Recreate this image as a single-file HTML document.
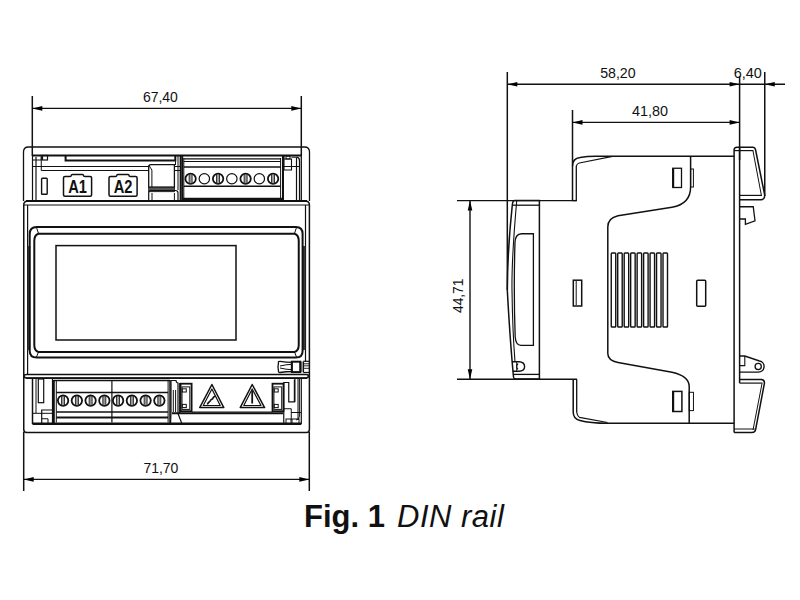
<!DOCTYPE html>
<html><head><meta charset="utf-8"><style>
html,body{margin:0;padding:0;background:#fff;width:800px;height:600px;overflow:hidden}
svg{position:absolute;left:0;top:0}
text{font-family:"Liberation Sans",sans-serif;fill:#111;stroke:none}
.cap{position:absolute;left:306px;top:497px;font-family:"Liberation Sans",sans-serif;font-size:31px;color:#111;white-space:nowrap}
</style></head><body>
<svg width="800" height="600" viewBox="0 0 800 600" stroke="#111" fill="none" stroke-linecap="butt">
<path d="M23.5,201 V152 Q23.5,147 28.5,147 H304.5 Q309.5,147 309.5,152 V201" stroke-width="1.3" fill="none"/>
<line x1="32.5" y1="155.5" x2="301" y2="155.5" stroke-width="2"/>
<line x1="32.5" y1="155" x2="32.5" y2="201" stroke-width="1.2"/>
<line x1="36" y1="157" x2="36" y2="201" stroke-width="1.2"/>
<rect x="32.5" y="155.5" width="8.75" height="4.5" stroke-width="1" rx="0" fill="none"/>
<rect x="42.5" y="155.5" width="5" height="4.5" stroke-width="1.2" rx="0" fill="none"/>
<line x1="41.25" y1="157" x2="41.25" y2="170.5" stroke-width="1"/>
<line x1="32.5" y1="166.5" x2="148.7" y2="166.5" stroke-width="1"/>
<line x1="41.25" y1="170.5" x2="148.7" y2="170.5" stroke-width="1"/>
<line x1="174.4" y1="166.5" x2="180.4" y2="166.5" stroke-width="1"/>
<line x1="174.4" y1="170.5" x2="180.4" y2="170.5" stroke-width="1"/>
<path d="M65.6,156 V160.5 H175.3 V156" stroke-width="2" fill="none"/>
<rect x="41.6" y="178.2" width="5.6" height="16" stroke-width="1.4" rx="0.8" fill="none"/>
<path d="M63.5,178 Q63.5,176.5 65.0,176.5 H70.0 Q71.25,176.5 71.25,175.5 Q71.25,174.5 72.5,174.5 H82.5 Q83.5,174.5 83.5,175.5 Q83.5,176.5 85.0,176.5 H90.1 Q91.6,176.5 91.6,178 V194.75 Q91.6,196.25 90.1,196.25 H65.0 Q63.5,196.25 63.5,194.75 Z" stroke-width="1.5" fill="none"/>
<path d="M109,178 Q109,176.5 110.5,176.5 H115.5 Q116.75,176.5 116.75,175.5 Q116.75,174.5 118,174.5 H128 Q129,174.5 129,175.5 Q129,176.5 130.5,176.5 H135.6 Q137.1,176.5 137.1,178 V194.75 Q137.1,196.25 135.6,196.25 H110.5 Q109,196.25 109,194.75 Z" stroke-width="1.5" fill="none"/>
<text x="68.25" y="193" font-size="17.5" text-anchor="start" font-weight="bold" textLength="18.75" lengthAdjust="spacingAndGlyphs">A1</text>
<text x="113.75" y="193" font-size="17.5" text-anchor="start" font-weight="bold" textLength="18.75" lengthAdjust="spacingAndGlyphs">A2</text>
<path d="M148.7,187.2 V167 Q148.7,164.7 151,164.7 H174.4 V187.2 Z" stroke-width="1.3" fill="none"/>
<line x1="151.9" y1="170" x2="151.9" y2="187" stroke-width="1"/>
<line x1="148.7" y1="165" x2="151.9" y2="170" stroke-width="1"/>
<rect x="148.7" y="187.2" width="25.7" height="4.5" stroke-width="0.8" rx="0" fill="#555"/>
<path d="M148.7,201 V193 Q148.7,190.5 151,190.5 H175.5 Q178,190.5 178,193 V201" stroke-width="1.2" fill="none"/>
<line x1="152" y1="193" x2="152" y2="201" stroke-width="1"/>
<line x1="174.4" y1="193" x2="174.4" y2="201" stroke-width="1"/>
<line x1="175.5" y1="156" x2="175.5" y2="165" stroke-width="1"/>
<line x1="178" y1="156" x2="178" y2="190" stroke-width="1"/>
<line x1="180.4" y1="156" x2="180.4" y2="201" stroke-width="1.5"/>
<line x1="182.2" y1="156" x2="182.2" y2="201" stroke-width="2"/>
<line x1="183.8" y1="158" x2="183.8" y2="199" stroke-width="1"/>
<line x1="280.6" y1="158" x2="280.6" y2="199" stroke-width="1"/>
<line x1="283" y1="156" x2="283" y2="201" stroke-width="2"/>
<line x1="183.8" y1="158.8" x2="280.6" y2="158.8" stroke-width="1.2"/>
<line x1="183.8" y1="161.5" x2="280.6" y2="161.5" stroke-width="1.2"/>
<line x1="183.8" y1="167" x2="280.6" y2="167" stroke-width="1.5"/>
<line x1="183.8" y1="186.3" x2="280.6" y2="186.3" stroke-width="1.5"/>
<line x1="182.2" y1="199.3" x2="283" y2="199.3" stroke-width="3"/>
<circle cx="190.6" cy="178.75" r="5.2" stroke-width="1.8" fill="none"/>
<rect x="189.1" y="174" width="3" height="9.5" stroke-width="0.8" rx="0" fill="#999"/>
<circle cx="204.35" cy="178.75" r="5.2" stroke-width="1.2" fill="none"/>
<circle cx="218.1" cy="178.75" r="5.2" stroke-width="1.8" fill="none"/>
<rect x="216.6" y="174" width="3" height="9.5" stroke-width="0.8" rx="0" fill="#999"/>
<circle cx="231.85" cy="178.75" r="5.2" stroke-width="1.2" fill="none"/>
<circle cx="245.6" cy="178.75" r="5.2" stroke-width="1.8" fill="none"/>
<rect x="244.1" y="174" width="3" height="9.5" stroke-width="0.8" rx="0" fill="#999"/>
<circle cx="259.35" cy="178.75" r="5.2" stroke-width="1.2" fill="none"/>
<circle cx="273.1" cy="178.75" r="5.2" stroke-width="1.8" fill="none"/>
<rect x="271.6" y="174" width="3" height="9.5" stroke-width="0.8" rx="0" fill="#999"/>
<rect x="286" y="156.2" width="4" height="2.8" stroke-width="1" rx="0" fill="none"/>
<path d="M284,156 V170 H291.5 V159 H284" stroke-width="1.1" fill="none"/>
<line x1="284" y1="166.5" x2="300" y2="166.5" stroke-width="1"/>
<line x1="291.5" y1="157.2" x2="297" y2="157.2" stroke-width="1"/>
<line x1="296.5" y1="157.5" x2="296.5" y2="200.5" stroke-width="1.2"/>
<path d="M297,157.2 Q299.5,157.5 299.5,161 V200.5" stroke-width="1.2" fill="none"/>
<line x1="301.3" y1="155" x2="301.3" y2="201" stroke-width="1.3"/>
<path d="M23.75,429.5 V205 Q23.75,201.2 27,201.2 H306 Q309.4,201.2 309.4,205 V429.5 Q309.4,432.6 306.5,432.6 H26.75 Q23.75,432.6 23.75,429.5 Z" stroke-width="1.5" fill="none"/>
<line x1="26" y1="201.1" x2="307" y2="201.1" stroke-width="2"/>
<line x1="24" y1="205" x2="309" y2="205" stroke-width="1"/>
<line x1="27.6" y1="205" x2="27.6" y2="375" stroke-width="1.2"/>
<line x1="305.5" y1="205" x2="305.5" y2="362" stroke-width="1.2"/>
<line x1="28.9" y1="246" x2="28.9" y2="350" stroke-width="2.6" stroke="#3a3a3a"/>
<line x1="304.1" y1="246" x2="304.1" y2="350" stroke-width="2.6" stroke="#3a3a3a"/>
<path d="M29.7,351 V234 Q29.7,227 36.7,227 H296 Q302.6,227 302.6,234 V351 Q302.6,357.5 296,357.5 H36.7 Q29.7,357.5 29.7,351" stroke-width="2" fill="none"/>
<path d="M34.3,345 V241 Q34.3,235 38.5,233.8 H294.5 Q298.75,235 298.75,241 V345 Q298.75,351 294.5,352 H38.5 Q34.3,351 34.3,345 Z" stroke-width="2" fill="none"/>
<line x1="36.5" y1="227.5" x2="38.5" y2="233.5" stroke-width="1"/>
<line x1="296.5" y1="227.5" x2="294.5" y2="233.5" stroke-width="1"/>
<line x1="36.5" y1="357" x2="38.5" y2="352" stroke-width="1"/>
<line x1="296.5" y1="357" x2="294.5" y2="352" stroke-width="1"/>
<rect x="56" y="245.6" width="180" height="94.4" stroke-width="1.5" rx="0" fill="none"/>
<path d="M278.5,362.5 Q278,361.3 280,361.3 Q286,362.3 292,362.3 V371.5 Q286,371.5 280,372.5 Q278,372.5 278.5,371 Q277.5,367 278.5,362.5 Z" stroke-width="1.3" fill="none"/>
<path d="M280,366 Q286,364.5 292,364.3 M280,368 Q286,369.5 292,369.7" stroke-width="1" fill="none"/>
<rect x="291.8" y="361.7" width="8.4" height="10.4" stroke-width="2" rx="0" fill="none"/>
<line x1="300.8" y1="361.5" x2="300.8" y2="372.3" stroke-width="1.5"/>
<line x1="303.3" y1="361.5" x2="303.3" y2="372.3" stroke-width="1.5"/>
<line x1="303.3" y1="361.3" x2="309" y2="361.3" stroke-width="1.2"/>
<line x1="303.3" y1="372.5" x2="309" y2="372.5" stroke-width="1.2"/>
<line x1="303.3" y1="363.75" x2="309" y2="363.75" stroke-width="0.9"/>
<line x1="303.3" y1="365.8" x2="309" y2="365.8" stroke-width="0.9"/>
<line x1="303.3" y1="368.3" x2="309" y2="368.3" stroke-width="0.9"/>
<path d="M306,374.4 H26.5 Q24,374.4 24,376.1 Q24,377.9 26.5,377.9 H306 Q308.5,377.9 308.5,376.1 Q308.5,374.4 306,374.4" stroke-width="1.5" fill="none"/>
<line x1="26" y1="378.2" x2="307" y2="378.2" stroke-width="1.6"/>
<line x1="32.5" y1="378.8" x2="32.5" y2="424" stroke-width="1.5"/>
<line x1="32.5" y1="423.8" x2="301.3" y2="423.8" stroke-width="2.5"/>
<line x1="301.3" y1="378.8" x2="301.3" y2="424" stroke-width="1.2"/>
<line x1="36" y1="379" x2="36" y2="413" stroke-width="1"/>
<rect x="38.3" y="379" width="5.4" height="23.7" stroke-width="1.2" rx="0" fill="none"/>
<line x1="32.5" y1="413.3" x2="52.5" y2="413.3" stroke-width="1"/>
<path d="M41.7,424 V410 H52.5" stroke-width="1.2" fill="none"/>
<path d="M42,418.75 H48 V424" stroke-width="1" fill="none"/>
<line x1="52.5" y1="379" x2="52.5" y2="424" stroke-width="1.2"/>
<line x1="53.8" y1="380" x2="53.8" y2="424" stroke-width="2"/>
<line x1="56.3" y1="380" x2="56.3" y2="422.5" stroke-width="1"/>
<line x1="168.1" y1="380" x2="168.1" y2="422.5" stroke-width="1"/>
<line x1="170" y1="380" x2="170" y2="424" stroke-width="1.5"/>
<line x1="53.8" y1="380.6" x2="170" y2="380.6" stroke-width="1.5"/>
<line x1="56.3" y1="392.5" x2="168.1" y2="392.5" stroke-width="1.5"/>
<line x1="56.3" y1="411.9" x2="168.1" y2="411.9" stroke-width="1.5"/>
<line x1="56.3" y1="417.5" x2="168.1" y2="417.5" stroke-width="2"/>
<line x1="111.9" y1="381" x2="111.9" y2="422.5" stroke-width="1.2"/>
<circle cx="63.1" cy="400.6" r="5.2" stroke-width="1.8" fill="none"/>
<rect x="61.6" y="396" width="3" height="9.5" stroke-width="0.8" rx="0" fill="#999"/>
<circle cx="76.85" cy="400.6" r="5.2" stroke-width="1.8" fill="none"/>
<rect x="75.35" y="396" width="3" height="9.5" stroke-width="0.8" rx="0" fill="#999"/>
<circle cx="90.6" cy="400.6" r="5.2" stroke-width="1.8" fill="none"/>
<rect x="89.1" y="396" width="3" height="9.5" stroke-width="0.8" rx="0" fill="#999"/>
<circle cx="104.35" cy="400.6" r="5.2" stroke-width="1.8" fill="none"/>
<rect x="102.85" y="396" width="3" height="9.5" stroke-width="0.8" rx="0" fill="#999"/>
<circle cx="118.1" cy="400.6" r="5.2" stroke-width="1.8" fill="none"/>
<rect x="116.6" y="396" width="3" height="9.5" stroke-width="0.8" rx="0" fill="#999"/>
<circle cx="131.85" cy="400.6" r="5.2" stroke-width="1.8" fill="none"/>
<rect x="130.35" y="396" width="3" height="9.5" stroke-width="0.8" rx="0" fill="#999"/>
<circle cx="145.6" cy="400.6" r="5.2" stroke-width="1.8" fill="none"/>
<rect x="144.1" y="396" width="3" height="9.5" stroke-width="0.8" rx="0" fill="#999"/>
<circle cx="159.35" cy="400.6" r="5.2" stroke-width="1.8" fill="none"/>
<rect x="157.85" y="396" width="3" height="9.5" stroke-width="0.8" rx="0" fill="#999"/>
<path d="M171,413.5 V380.5 H176 Q176.3,383 178,383 V413.5" stroke-width="1.2" fill="none"/>
<line x1="173.3" y1="390" x2="173.3" y2="412" stroke-width="1"/>
<line x1="175.6" y1="390" x2="175.6" y2="412" stroke-width="1"/>
<path d="M171,413.5 L170.5,424 M178,413.5 L182,424" stroke-width="1.2" fill="none"/>
<line x1="179.7" y1="383" x2="179.7" y2="413" stroke-width="1.2"/>
<rect x="180.6" y="383.7" width="11" height="27.5" stroke-width="1.8" rx="0" fill="none"/>
<rect x="182.0" y="386.9" width="7.8" height="22.5" stroke-width="1" rx="0" fill="none"/>
<rect x="182.29999999999998" y="388.8" width="4" height="3.2" stroke-width="1" rx="0" fill="none"/>
<rect x="182.29999999999998" y="404.4" width="4" height="3.2" stroke-width="1" rx="0" fill="none"/>
<rect x="272.5" y="383.7" width="11" height="27.5" stroke-width="1.8" rx="0" fill="none"/>
<rect x="273.9" y="386.9" width="7.8" height="22.5" stroke-width="1" rx="0" fill="none"/>
<rect x="274.2" y="388.8" width="4" height="3.2" stroke-width="1" rx="0" fill="none"/>
<rect x="274.2" y="404.4" width="4" height="3.2" stroke-width="1" rx="0" fill="none"/>
<line x1="172" y1="413.3" x2="283" y2="413.3" stroke-width="2"/>
<line x1="191.6" y1="412" x2="272.5" y2="412" stroke-width="1"/>
<path d="M211.9,384.5 L223.8,407.6 H199.7 Z" stroke-width="1.5" stroke-linejoin="round" fill="none"/>
<path d="M211.9,389 L220.20000000000002,405.5 H203.29999999999998 Z" stroke-width="1.2" stroke-linejoin="round" fill="none"/>
<path d="M252.2,384.5 L264.6,407.6 H240.2 Z" stroke-width="1.5" stroke-linejoin="round" fill="none"/>
<path d="M252.2,389 L261.0,405.5 H243.79999999999998 Z" stroke-width="1.2" stroke-linejoin="round" fill="none"/>
<path d="M207.3,404.6 C208.3,401.5 209.5,402.5 210.5,400.5 C211.5,398.5 212.5,400 213,398 C213.5,396.5 214.5,397 215.2,395.8" stroke-width="1.6" fill="none"/>
<path d="M251.3,391 Q252.2,389.8 253.1,391 V403.5 H251.3 Z" stroke-width="0" fill="#111"/>
<path d="M283.75,424 V382.5 H288.75 V401.9 H294.4 V379.4" stroke-width="1.2" fill="none"/>
<path d="M283.75,408.75 H291.25 V420" stroke-width="1" fill="none"/>
<rect x="286" y="419" width="5" height="5" stroke-width="1" rx="0" fill="none"/>
<rect x="292" y="419" width="7" height="5" stroke-width="1" rx="0" fill="none"/>
<line x1="291" y1="412.5" x2="301" y2="412.5" stroke-width="1"/>
<line x1="295" y1="379" x2="295" y2="402" stroke-width="1"/>
<line x1="298" y1="379" x2="298" y2="420" stroke-width="1"/>
<path d="M299.4,379 V416 Q299.4,420 296,420" stroke-width="1" fill="none"/>
<path d="M572.5,200.6 V166 Q572.5,158.5 580,157.5 Q587,156.3 596,156.3 H734.1" stroke-width="1.5" fill="none"/>
<line x1="576.3" y1="166" x2="576.3" y2="200.6" stroke-width="1.3"/>
<line x1="572.5" y1="200.6" x2="576.3" y2="200.6" stroke-width="1.3"/>
<path d="M576.3,166 Q577,163.5 579.4,163 L612.5,156.3" stroke-width="1.2" fill="none"/>
<path d="M573.2,379.3 V412 Q573.2,419 580,420.5 Q590,423.3 608,423.3 H734.1" stroke-width="1.5" fill="none"/>
<line x1="576.7" y1="379.3" x2="576.7" y2="412" stroke-width="1.3"/>
<path d="M576.7,412 Q577.5,416.5 579.5,417.3 L607.5,422.5" stroke-width="1.2" fill="none"/>
<path d="M690.6,156.3 V187 Q690.6,204 672,207.2 L618,215.75 Q607.8,218 607.8,227 V353.5 Q607.8,360.5 618,362.5 L672,372.25 Q689.2,376 689.2,386.5 V423.3" stroke-width="1.5" fill="none"/>
<rect x="672.75" y="168.25" width="8.75" height="19.25" stroke-width="1.3" rx="0" fill="none"/>
<line x1="673.2" y1="168.5" x2="673.2" y2="187" stroke-width="2"/>
<rect x="690.6" y="169" width="2.8" height="18" stroke-width="1" rx="0" fill="none"/>
<rect x="573.3" y="280.2" width="8.4" height="25.8" stroke-width="1.5" rx="0" fill="none"/>
<line x1="576.2" y1="281" x2="576.2" y2="305" stroke-width="1"/>
<rect x="696.7" y="280.25" width="9" height="26" stroke-width="1.5" rx="1" fill="none"/>
<rect x="672.75" y="391.4" width="9.15" height="20.1" stroke-width="1.5" rx="0" fill="none"/>
<line x1="673.2" y1="391.7" x2="673.2" y2="411" stroke-width="2"/>
<rect x="689.2" y="392.3" width="4.25" height="18.3" stroke-width="1" rx="0" fill="none"/>
<rect x="611.25" y="253" width="4.5" height="74" stroke-width="1.4" rx="0.8" fill="none"/>
<rect x="617.72" y="253" width="4.5" height="74" stroke-width="1.4" rx="0.8" fill="none"/>
<rect x="624.19" y="253" width="4.5" height="74" stroke-width="1.4" rx="0.8" fill="none"/>
<rect x="630.66" y="253" width="4.5" height="74" stroke-width="1.4" rx="0.8" fill="none"/>
<rect x="637.13" y="253" width="4.5" height="74" stroke-width="1.4" rx="0.8" fill="none"/>
<rect x="643.6" y="253" width="4.5" height="74" stroke-width="1.4" rx="0.8" fill="none"/>
<rect x="650.07" y="253" width="4.5" height="74" stroke-width="1.4" rx="0.8" fill="none"/>
<rect x="656.54" y="253" width="4.5" height="74" stroke-width="1.4" rx="0.8" fill="none"/>
<rect x="663.01" y="253" width="4.5" height="74" stroke-width="1.4" rx="0.8" fill="none"/>
<path d="M514.6,200.6 H539.4 V379 H515.5 Q513.75,379 513.5,377 Q510,340 507.3,290 Q507.5,250 512.3,205 Q512.8,200.6 514.6,200.6" stroke-width="1.5" fill="none"/>
<path d="M516.7,201 Q511.5,260 512,290 Q512.5,330 515,362" stroke-width="1.1" fill="none"/>
<line x1="513" y1="205.2" x2="539.4" y2="205.2" stroke-width="1.3"/>
<line x1="514" y1="374.4" x2="539.4" y2="374.4" stroke-width="1.3"/>
<path d="M533.4,233.75 H521.5 Q515.5,234 515,242 Q513.5,290 515.2,337 Q515.8,345.3 521,345.3 H533.4 Z" stroke-width="1.3" fill="none"/>
<path d="M512,361.7 H519 Q524.6,362 524.6,366.5 Q524.6,371.2 519,371.2 H512.8" stroke-width="1.4" fill="none"/>
<path d="M518,363.5 Q515.5,366.5 518,369.5" stroke-width="1.2" fill="none"/>
<line x1="516.5" y1="361.8" x2="516.5" y2="371.2" stroke-width="0.8"/>
<line x1="734.1" y1="150" x2="734.1" y2="432.6" stroke-width="1.5"/>
<line x1="739.6" y1="147.5" x2="739.6" y2="383.1" stroke-width="1.5"/>
<path d="M734.1,150 Q734.1,147.25 737,147.25 H753 Q755,147.5 755.5,149.5 L764.6,194.5 Q765,199.75 761,199.75 H739.6" stroke-width="1.5" fill="none"/>
<line x1="734.1" y1="150.6" x2="753.5" y2="150.6" stroke-width="1.2"/>
<line x1="753" y1="151" x2="761.5" y2="196" stroke-width="1"/>
<line x1="739.6" y1="195.4" x2="762" y2="195.4" stroke-width="1.2"/>
<path d="M739.6,206.75 H753.25 L755,220.75 L745.4,224.25 V219 H739.6" stroke-width="1.3" fill="none"/>
<path d="M739.6,356 H744.8 L759.5,361 A5.6,5.6 0 0 1 758.2,372.1 H739.6" stroke-width="1.4" fill="none"/>
<circle cx="758.2" cy="366.5" r="3.1" stroke-width="1.3" fill="none"/>
<path d="M744.8,356 V365.6 H739.6" stroke-width="1.1" fill="none"/>
<path d="M739.6,379.5 H761.5 Q764.8,380 764.4,383.5 L755.6,429.5 Q755.2,432.6 752,432.6 H734.1" stroke-width="1.5" fill="none"/>
<line x1="739.6" y1="383.1" x2="762.5" y2="383.1" stroke-width="1.2"/>
<line x1="762" y1="383.5" x2="753" y2="430" stroke-width="1"/>
<line x1="734.1" y1="429" x2="754.8" y2="429" stroke-width="1"/>
<line x1="32.3" y1="96" x2="32.3" y2="156" stroke-width="1.5"/>
<line x1="301.3" y1="96" x2="301.3" y2="156" stroke-width="1.5"/>
<line x1="32" y1="108.4" x2="301" y2="108.4" stroke-width="1.4"/>
<path d="M32.3,108.4 L42.3,106.10000000000001 L42.3,110.7 Z" stroke-width="0" fill="#000"/>
<path d="M301.3,108.4 L291.3,106.10000000000001 L291.3,110.7 Z" stroke-width="0" fill="#000"/>
<text x="160.4" y="101.9" font-size="14.8" text-anchor="middle" textLength="35" lengthAdjust="spacingAndGlyphs">67,40</text>
<line x1="23.7" y1="432" x2="23.7" y2="491" stroke-width="1.5"/>
<line x1="309.3" y1="432" x2="309.3" y2="491" stroke-width="1.5"/>
<line x1="23.7" y1="479.4" x2="309.3" y2="479.4" stroke-width="1.4"/>
<path d="M23.7,479.4 L33.7,477.09999999999997 L33.7,481.7 Z" stroke-width="0" fill="#000"/>
<path d="M309.3,479.4 L299.3,477.09999999999997 L299.3,481.7 Z" stroke-width="0" fill="#000"/>
<text x="160.9" y="473" font-size="15.2" text-anchor="middle" textLength="35" lengthAdjust="spacingAndGlyphs">71,70</text>
<line x1="507.3" y1="72" x2="507.3" y2="290" stroke-width="1.5"/>
<line x1="507.3" y1="84.3" x2="785" y2="84.3" stroke-width="1.4"/>
<path d="M507.3,84.3 L517.3,82.0 L517.3,86.6 Z" stroke-width="0" fill="#000"/>
<path d="M739.6,84.3 L729.6,82.0 L729.6,86.6 Z" stroke-width="0" fill="#000"/>
<path d="M764.75,84.3 L774.75,82.0 L774.75,86.6 Z" stroke-width="0" fill="#000"/>
<line x1="739.6" y1="76" x2="739.6" y2="160" stroke-width="1.5"/>
<line x1="764.75" y1="72" x2="764.75" y2="196" stroke-width="1.5"/>
<text x="617.9" y="78" font-size="15" text-anchor="middle" textLength="35.5" lengthAdjust="spacingAndGlyphs">58,20</text>
<text x="747.8" y="77.9" font-size="15" text-anchor="middle" textLength="28.2" lengthAdjust="spacingAndGlyphs">6,40</text>
<line x1="572.5" y1="110" x2="572.5" y2="166" stroke-width="1.5"/>
<line x1="572.5" y1="122.4" x2="739.6" y2="122.4" stroke-width="1.4"/>
<path d="M572.5,122.4 L582.5,120.10000000000001 L582.5,124.7 Z" stroke-width="0" fill="#000"/>
<path d="M739.6,122.4 L729.6,120.10000000000001 L729.6,124.7 Z" stroke-width="0" fill="#000"/>
<text x="650.1" y="115.6" font-size="15" text-anchor="middle" textLength="36" lengthAdjust="spacingAndGlyphs">41,80</text>
<line x1="457" y1="200.6" x2="577" y2="200.6" stroke-width="1.4"/>
<line x1="457" y1="379.3" x2="577" y2="379.3" stroke-width="1.4"/>
<line x1="470" y1="200.6" x2="470" y2="379.3" stroke-width="1.4"/>
<path d="M470,200.6 L467.7,210.6 L472.3,210.6 Z" stroke-width="0" fill="#000"/>
<path d="M470,379.3 L467.7,369.3 L472.3,369.3 Z" stroke-width="0" fill="#000"/>
<text x="0" y="0" font-size="14.5" text-anchor="middle" textLength="34.3" lengthAdjust="spacingAndGlyphs" transform="translate(463.3,295.85) rotate(-90)">44,71</text>
</svg>
<div class="cap" style="left:304px;top:499px;font-weight:bold">Fig. 1</div><div class="cap" style="left:397px;top:499px;font-style:italic;letter-spacing:0.5px">DIN rail</div>
</body></html>
